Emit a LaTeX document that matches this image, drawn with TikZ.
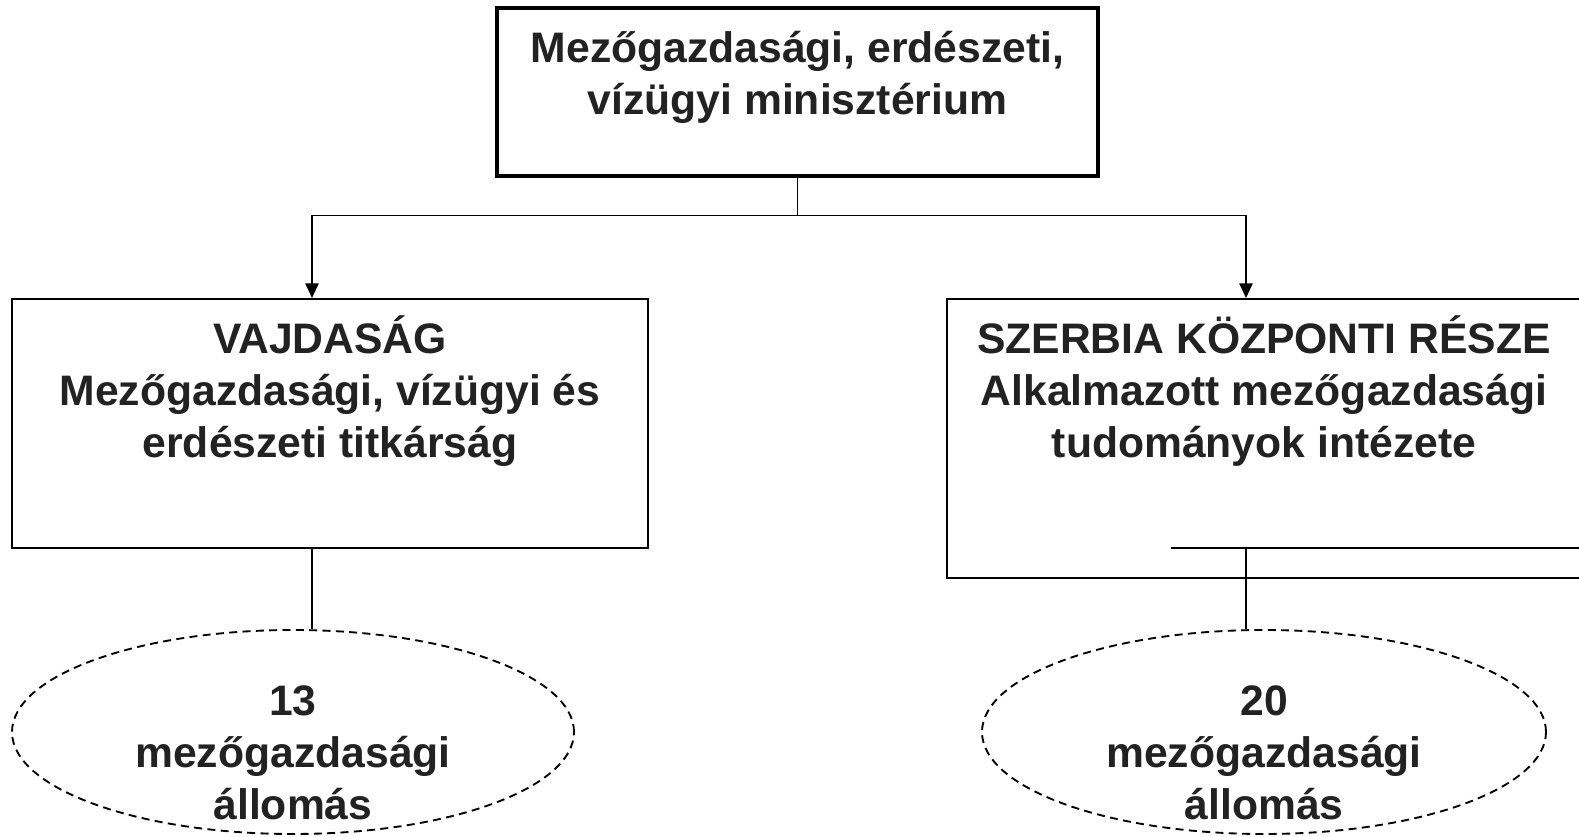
\documentclass[tikz,border=0pt]{standalone}
\usepackage{fontspec}
\setmainfont{Liberation Sans}
\usepackage{xcolor}
\usetikzlibrary{arrows.meta, shapes.geometric}

\definecolor{inkgray}{HTML}{222222}

\begin{document}
\begin{tikzpicture}[
    x=0.75pt, y=-0.75pt,
    box/.style={rectangle, draw, line width=1.5pt, inner sep=0pt},
    topbox/.style={box, line width=3.2pt},
    station/.style={ellipse, draw, dashed, dash pattern=on 6pt off 4pt, line width=1.4pt, inner sep=0pt},
    boxtext/.style={align=center, text=inkgray, font=\fontsize{32}{39}\selectfont\bfseries},
    link/.style={line width=1.3pt},
    arrow/.style={-{Triangle[length=11pt,width=10pt]}, line width=1.3pt},
]
    \useasboundingbox (0,0) rectangle (1579,837);
    \clip (0,0) rectangle (1579,837);

    % Ministry
    \node[topbox, minimum width=450.75pt, minimum height=126pt] (ministry) at (797.5,92) {};
    \node[boxtext] (ministrytxt) at (797.5,77) {Mezőgazdasági, erdészeti,\\vízügyi minisztérium};

    % Regions
    \node[box, minimum width=476.6pt, minimum height=186.75pt] (vojvodina) at (330,423.5) {};
    \node[boxtext] (vojvodinatxt) at (330,391) {VAJDASÁG\\Mezőgazdasági, vízügyi és\\erdészeti titkárság};
    \node[box, minimum width=475.5pt, minimum height=209.25pt] (central) at (1264,438.5) {};
    \node[boxtext] (centraltxt) at (1264,391) {SZERBIA KÖZPONTI RÉSZE\\Alkalmazott mezőgazdasági\\tudományok intézete};

    % Stations
    \node[station, minimum width=421.5pt, minimum height=153pt] (stleft) at (293,732) {};
    \node[boxtext] (stlefttxt) at (293,753) {13\\mezőgazdasági\\állomás};
    \node[station, minimum width=423pt, minimum height=153pt] (stright) at (1264,732) {};
    \node[boxtext] (strighttxt) at (1264,753) {20\\mezőgazdasági\\állomás};

    % Connectors
    \coordinate (split) at (797.5,215.5);
    \coordinate (jleft) at (312,215.5);
    \coordinate (jright) at (1246,215.5);
    \coordinate (inner) at (1171,548);
    \draw[link] (ministry.south) -- (split);
    \draw[link] (jleft) -- (jright);
    \draw[arrow] (jleft) -- (jleft |- vojvodina.north);
    \draw[arrow] (jright) -- (jright |- central.north);
    \draw[link] (jleft |- vojvodina.south) -- (jleft |- stleft.north);
    \draw[box] (inner) -- (inner -| central.east);
    \draw[link] (jright |- inner) -- (jright |- stright.north);
\end{tikzpicture}
\end{document}
